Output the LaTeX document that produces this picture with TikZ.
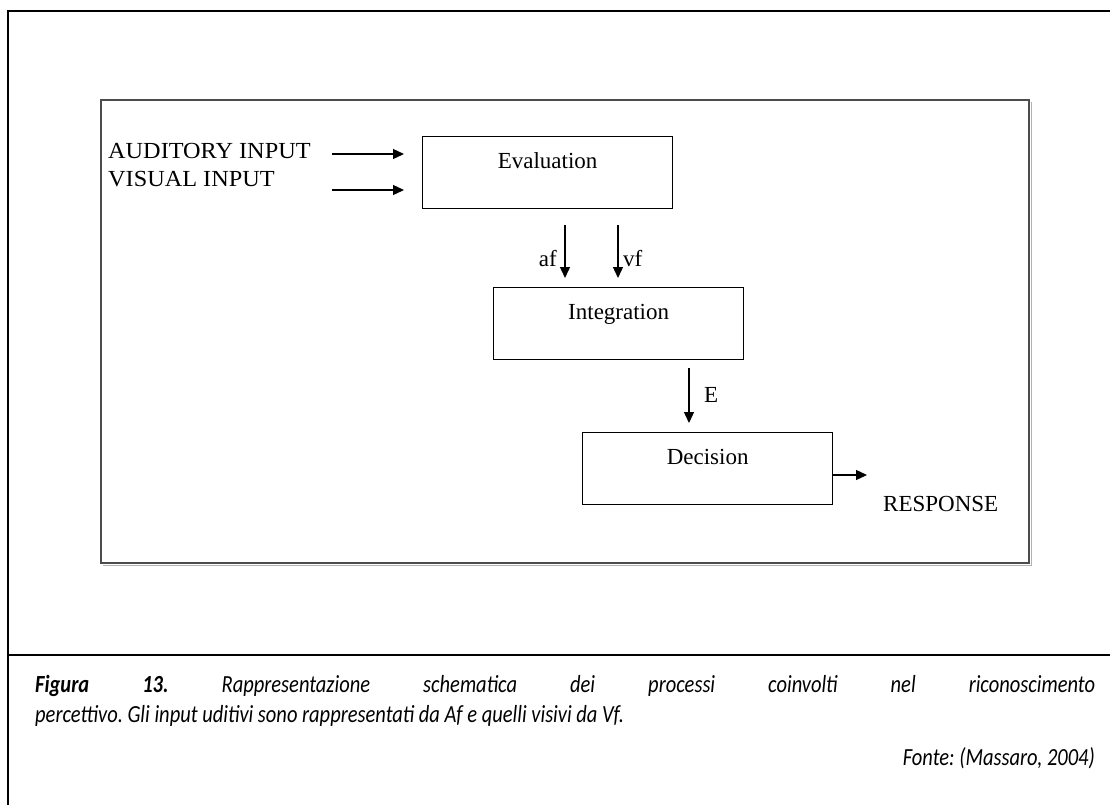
\documentclass[tikz,border=0pt]{standalone}
\usepackage{fontspec}
\setmainfont{Liberation Serif}
\newfontfamily\capfont{Carlito}
\usetikzlibrary{arrows.meta}
\newcommand{\tallcap}[1]{\scalebox{1}[1.2]{#1}}
\frenchspacing
\begin{document}
\begin{tikzpicture}[x=1pt,y=-1pt,
  box/.style={draw=black, line width=1.3pt, minimum width=250pt, minimum height=72pt, inner sep=0pt, anchor=north west},
  lbl/.style={font=\fontsize{23}{27}\selectfont, inner sep=0pt},
  arr/.style={line width=1.3pt, -{Triangle[length=11pt,width=10pt]}},
  captxt/.style={font=\capfont\itshape\fontsize{20.5}{30}\selectfont, inner sep=0pt}
]
\useasboundingbox (0,0) rectangle (1110,804);
\clip (0,0) rectangle (1110,804);
\fill[white] (0,0) rectangle (1110,804);
% outer frame
\draw[line width=2.5pt] (8,830) -- (8,11) -- (1130,11);
\draw[line width=2pt] (8,655) -- (1130,655);
% inner frame with light shadow
\draw[black!30, line width=1pt] (103,565) -- (1031,565) -- (1031,102);
\draw[black!70, line width=1.5pt] (101,100) rectangle (1029,563);
% boxes
\node[box] (eval) at (422,136) {};
\node[box] (integ) at (493,287) {};
\node[box] (dec) at (582,432) {};
\node[lbl, anchor=base] (evaltxt) at (eval.north |- 0,168) {Evaluation};
\node[lbl, anchor=base] (integtxt) at (integ.north |- 0,319) {Integration};
\node[lbl, anchor=base] (dectxt) at (dec.north |- 0,464) {Decision};
% inputs
\node[lbl, anchor=base west] (aud) at (108,158) {\scalebox{1.055}[1]{AUDITORY INPUT}};
\node[lbl, anchor=base west] (vis) at (108,186) {\scalebox{1.055}[1]{VISUAL INPUT}};
\coordinate (a1s) at (332,154); \coordinate (a1e) at (404,154);
\coordinate (a2s) at (332,190); \coordinate (a2e) at (404,190);
\draw[arr] (a1s) -- (a1e);
\draw[arr] (a2s) -- (a2e);
% af / vf
\coordinate (afs) at (565,225); \coordinate (afe) at (565,278);
\coordinate (vfs) at (618,225); \coordinate (vfe) at (618,278);
\draw[arr] (afs) -- (afe);
\draw[arr] (vfs) -- (vfe);
\node[lbl, anchor=base east] (af) at (557,266) {af};
\node[lbl, anchor=base west] (vf) at (623,266) {vf};
% E
\coordinate (es) at (689,368); \coordinate (ee) at (689,423);
\draw[arr] (es) -- (ee);
\node[lbl, anchor=base west] (E) at (704,402) {E};
% response
\coordinate (re) at (867,475);
\draw[arr] (dec.east |- re) -- (re);
\node[lbl, anchor=base west] (resp) at (883,511) {RESPONSE};
% caption
\node[captxt, anchor=base west] (cap1) at (35,692) {\tallcap{\makebox[1060pt][s]{\textbf{Figura 13.} Rappresentazione schematica dei processi coinvolti nel riconoscimento}}};
\node[captxt, anchor=base west] (cap2) at (35,722) {\tallcap{percettivo. Gli input uditivi sono rappresentati da Af e quelli visivi da Vf.}};
\node[captxt, anchor=base east] (fonte) at (1095,765) {\tallcap{Fonte: (Massaro, 2004)}};
\end{tikzpicture}
\end{document}
